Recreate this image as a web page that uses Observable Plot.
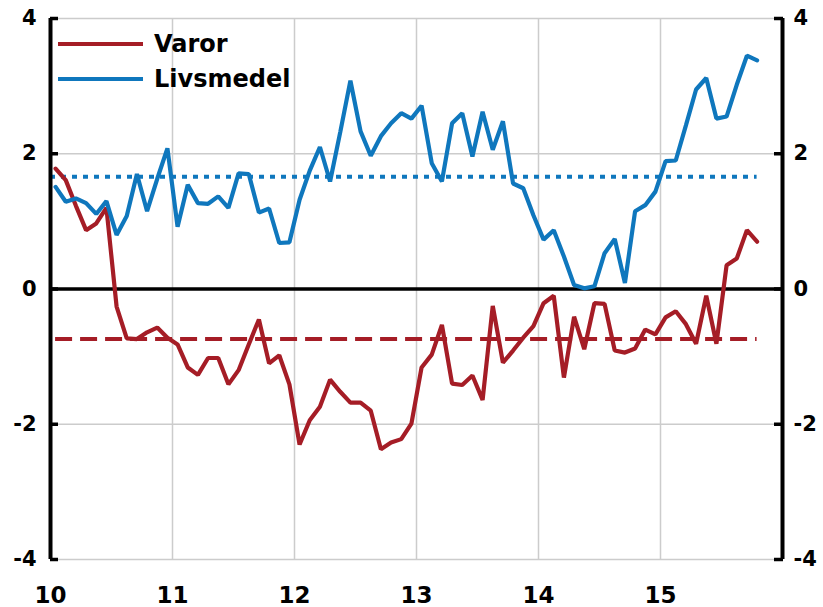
<!DOCTYPE html>
<html>
<head>
<meta charset="utf-8">
<script src="https://cdn.jsdelivr.net/npm/d3@7"></script>
<script src="https://cdn.jsdelivr.net/npm/@observablehq/plot@0.6"></script>
<style>
  html, body { margin: 0; padding: 0; background: #fff; }
  #wrap { position: relative; width: 823px; height: 607px; }
  #legend { position: absolute; left: 58px; top: 26px; font-family: "DejaVu Sans", sans-serif; font-weight: bold; font-size: 24px; color: #000; }
  .item { display: flex; align-items: center; height: 35px; }
  .swatch { width: 85px; height: 4px; margin-right: 11px; }
</style>
</head>
<body>
<div id="wrap">
  <div id="chart"></div>
  <div id="legend">
    <div class="item"><span class="swatch" style="background:#a51d26"></span>Varor</div>
    <div class="item"><span class="swatch" style="background:#0f77bd"></span>Livsmedel</div>
  </div>
</div>
<script>
// Monthly values, Jan 2010 – Oct 2015 (x axis labels are two-digit years)
const startYear = 10;
const varor = [1.78, 1.61, 1.23, 0.87, 0.97, 1.20, -0.26, -0.73, -0.74, -0.64, -0.57, -0.72,
  -0.82, -1.16, -1.27, -1.02, -1.02, -1.41, -1.20, -0.82, -0.45, -1.10, -0.98, -1.41,
  -2.30, -1.94, -1.74, -1.34, -1.52, -1.68, -1.68, -1.80, -2.37, -2.27, -2.22, -1.99,
  -1.16, -0.97, -0.53, -1.40, -1.42, -1.28, -1.64, -0.25, -1.09, -0.91, -0.72, -0.55,
  -0.21, -0.10, -1.31, -0.41, -0.89, -0.21, -0.22, -0.91, -0.94, -0.88, -0.60, -0.67,
  -0.42, -0.33, -0.52, -0.81, -0.10, -0.81, 0.35, 0.45, 0.87, 0.70];
const livsmedel = [1.51, 1.29, 1.34, 1.27, 1.11, 1.30, 0.80, 1.08, 1.70, 1.15, 1.63, 2.08,
  0.92, 1.54, 1.27, 1.26, 1.37, 1.20, 1.71, 1.70, 1.13, 1.19, 0.68, 0.69,
  1.32, 1.75, 2.10, 1.59, 2.32, 3.08, 2.33, 1.97, 2.26, 2.45, 2.60, 2.52,
  2.71, 1.86, 1.59, 2.45, 2.60, 1.96, 2.62, 2.06, 2.48, 1.56, 1.49, 1.09,
  0.73, 0.87, 0.48, 0.06, 0.01, 0.04, 0.53, 0.74, 0.09, 1.15, 1.24, 1.44,
  1.89, 1.90, 2.42, 2.95, 3.12, 2.52, 2.55, 3.02, 3.45, 3.38];
const varorMean = -0.74;
const livsmedelMean = 1.66;
const xTicks = [10, 11, 12, 13, 14, 15];
const yTicks = [-4, -2, 0, 2, 4];
const yGrid = [-4, -2, 2, 4];

const red = "#a51d26";
const blue = "#0f77bd";

const t = (i) => startYear + (i + 0.5) / 12;
const redData = varor.map((v, i) => ({x: t(i), y: v}));
const blueData = livsmedel.map((v, i) => ({x: t(i), y: v}));
const xFirst = t(0), xLast = t(varor.length - 1);

const font = "DejaVu Sans, sans-serif";
const fmt = (d) => String(d);

const chart = Plot.plot({
  width: 823,
  height: 607,
  marginLeft: 50,
  marginRight: 41,
  marginTop: 18,
  marginBottom: 48,
  style: {fontFamily: font, background: "#fff"},
  x: {domain: [10, 16]},
  y: {domain: [-4, 4]},
  marks: [
    Plot.ruleX(xTicks.slice(1), {stroke: "#cccccc", strokeWidth: 1.5}),
    Plot.ruleY(yGrid, {stroke: "#cccccc", strokeWidth: 1.5}),
    Plot.ruleY([livsmedelMean], {x1: startYear, x2: xLast, stroke: blue, strokeWidth: 4, strokeDasharray: "5,6"}),
    Plot.ruleY([varorMean], {x1: xFirst, x2: xLast, stroke: red, strokeWidth: 4, strokeDasharray: "17,8"}),
    Plot.ruleY([0], {stroke: "#000", strokeWidth: 3.5}),
    Plot.lineY(redData, {x: "x", y: "y", stroke: red, strokeWidth: 4.2, strokeLinejoin: "miter"}),
    Plot.lineY(blueData, {x: "x", y: "y", stroke: blue, strokeWidth: 4.2, strokeLinejoin: "miter"}),
    Plot.ruleX([10, 16], {stroke: "#000", strokeWidth: 4}),
    Plot.axisY(yTicks, {anchor: "left", tickSize: -8, tickPadding: 22, tickFormat: fmt, strokeWidth: 3.5, stroke: "#000", fontSize: 21, fontWeight: "bold", fontFamily: font, fill: "#000", label: null}),
    Plot.axisY(yTicks, {anchor: "right", tickSize: -9, tickPadding: 20, tickFormat: fmt, strokeWidth: 3.5, stroke: "#000", fontSize: 21, fontWeight: "bold", fontFamily: font, fill: "#000", textAnchor: "start", label: null}),
    Plot.axisX(xTicks, {anchor: "bottom", tickSize: 0, tickPadding: 27, tickFormat: fmt, fontSize: 23, fontWeight: "bold", fontFamily: font, fill: "#000", label: null})
  ]
});
document.getElementById("chart").appendChild(chart);
</script>
</body>
</html>
